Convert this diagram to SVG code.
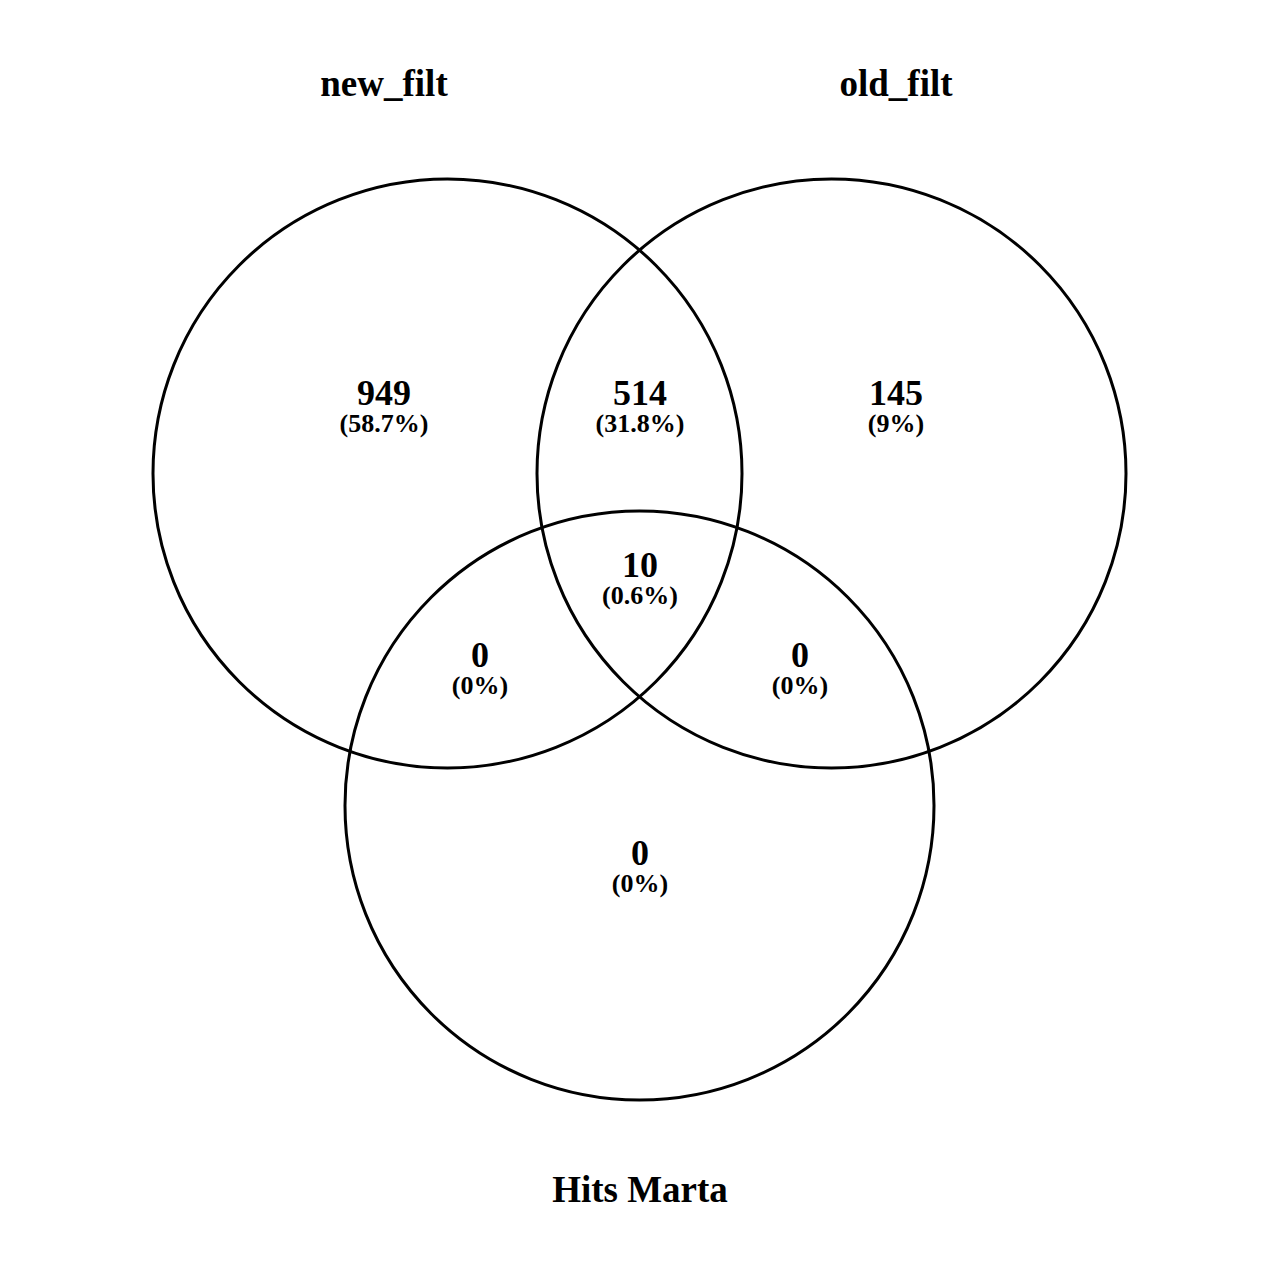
<svg xmlns="http://www.w3.org/2000/svg" width="1280" height="1280" viewBox="0 0 1280 1280">
<style>
.c{fill:none;stroke:#000;stroke-width:3}
text{font-family:"Liberation Serif","Times New Roman",serif;font-weight:bold;text-anchor:middle;fill:#000}
.t{font-size:37px}
.n{font-size:36px}
.p{font-size:26px}
</style>
<rect width="1280" height="1280" fill="#fff"/>
<g id="set-new_filt"><circle class="c" cx="447.5" cy="473.5" r="294.5"/><text class="t" x="384" y="96">new_filt</text></g>
<g id="set-old_filt"><circle class="c" cx="831.5" cy="473.5" r="294.5"/><text class="t" x="896" y="96">old_filt</text></g>
<g id="set-hits"><circle class="c" cx="639.5" cy="805.5" r="294.5"/><text class="t" x="640" y="1202">Hits Marta</text></g>
<g id="labels">
<g id="r1"><text class="n" x="384" y="405">949</text><text class="p" x="384" y="432">(58.7%)</text></g>
<g id="r2"><text class="n" x="640" y="405">514</text><text class="p" x="640" y="432">(31.8%)</text></g>
<g id="r3"><text class="n" x="896" y="405">145</text><text class="p" x="896" y="432">(9%)</text></g>
<g id="r4"><text class="n" x="640" y="577">10</text><text class="p" x="640" y="604">(0.6%)</text></g>
<g id="r5"><text class="n" x="480" y="667">0</text><text class="p" x="480" y="694">(0%)</text></g>
<g id="r6"><text class="n" x="800" y="667">0</text><text class="p" x="800" y="694">(0%)</text></g>
<g id="r7"><text class="n" x="640" y="865">0</text><text class="p" x="640" y="892">(0%)</text></g>
</g>
</svg>
